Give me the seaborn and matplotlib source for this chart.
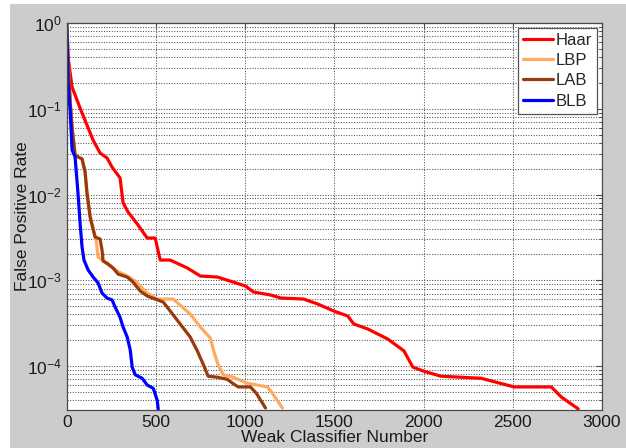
import numpy as np
import pandas as pd
import matplotlib
matplotlib.use("Agg")
import matplotlib.pyplot as plt
import seaborn as sns
from matplotlib.ticker import FixedLocator, NullFormatter, FuncFormatter
from matplotlib.patches import Rectangle

# ---- data ----
methods = ["Haar", "LBP", "LAB", "BLB"]
colors = ["#FF0000", "#FFAA5E", "#993A0C", "#0000FF"]

haar_x = [1, 30, 75, 148, 187, 226, 254, 299, 316, 344, 400, 451, 496, 524, 580, 676,
          749, 845, 935, 1002, 1047, 1143, 1199, 1328, 1407, 1497, 1575, 1609, 1688,
          1800, 1890, 1940, 2002, 2097, 2322, 2508, 2716, 2772, 2867]
haar_y = [0.51, 0.179, 0.102, 0.043, 0.0305, 0.0267, 0.0209, 0.0156, 0.0080, 0.00625,
          0.0044, 0.00311, 0.00311, 0.00172, 0.00172, 0.00139, 0.00112, 0.00109, 0.00095,
          0.000857, 0.00073, 0.000673, 0.000621, 0.000604, 0.000528, 0.000438, 0.000383,
          0.000309, 0.00027, 0.000206, 0.00015, 9.7e-5, 8.7e-5, 7.6e-5, 7.2e-5, 5.7e-5,
          5.7e-5, 4.35e-5, 3.16e-5]

lbp_x = [0, 7, 19, 30, 47, 64, 86, 103, 114, 137, 165, 176, 226, 283, 339, 384, 451, 507,
         597, 692, 749, 805, 822, 849, 877, 934, 1012, 1125, 1153, 1209]
lbp_y = [1.0, 0.48, 0.126, 0.061, 0.029, 0.0274, 0.026, 0.0183, 0.0098, 0.005, 0.00295,
         0.00187, 0.00155, 0.00128, 0.00112, 0.00098, 0.00071, 0.000604, 0.000604,
         0.000404, 0.000285, 0.000212, 0.000154, 0.000103, 7.9e-5, 7.4e-5, 6.3e-5,
         5.7e-5, 4.8e-5, 3.24e-5]

lab_x = [0, 7, 19, 30, 47, 64, 86, 103, 114, 131, 159, 187, 198, 204, 232, 260, 288, 339,
         372, 412, 451, 496, 541, 580, 636, 692, 732, 765, 793, 844, 900, 934, 962, 1030,
         1063, 1114]
lab_y = [1.0, 0.48, 0.126, 0.061, 0.0289, 0.0274, 0.026, 0.0183, 0.0104, 0.00547, 0.00319,
         0.00303, 0.00225, 0.00168, 0.00155, 0.00139, 0.00118, 0.00109, 0.00095, 0.00075,
         0.000655, 0.000604, 0.000557, 0.000438, 0.000309, 0.000218, 0.00015, 0.000105,
         7.6e-5, 7.4e-5, 7.0e-5, 6.2e-5, 5.7e-5, 5.7e-5, 4.8e-5, 3.24e-5]

blb_x = [0, 7, 19, 30, 47, 64, 75, 86, 97, 120, 148, 176, 198, 226, 254, 271, 299, 316,
         339, 356, 367, 384, 423, 451, 485, 507, 513]
blb_y = [1.0, 0.2, 0.097, 0.033, 0.0274, 0.0099, 0.00466, 0.00245, 0.00172, 0.00132,
         0.00109, 0.00093, 0.00071, 0.00062, 0.00059, 0.00049, 0.00037, 0.000285,
         0.000218, 0.000154, 9.7e-5, 7.9e-5, 7.2e-5, 6.0e-5, 5.5e-5, 4.0e-5, 3.15e-5]

x_ticks = [0, 500, 1000, 1500, 2000, 2500, 3000]
y_exps = [-4, -3, -2, -1, 0]

frames = []
for name, xs, ys in [("Haar", haar_x, haar_y), ("LBP", lbp_x, lbp_y),
                     ("LAB", lab_x, lab_y), ("BLB", blb_x, blb_y)]:
    frames.append(pd.DataFrame({"x": xs, "y": ys, "method": name}))
df = pd.concat(frames, ignore_index=True)

# ---- style ----
sns.set_style("white")
plt.rcParams["font.family"] = ["Liberation Sans", "DejaVu Sans"]
plt.rcParams["mathtext.fontset"] = "custom"
plt.rcParams["mathtext.rm"] = "Liberation Sans"
plt.rcParams["mathtext.it"] = "Liberation Sans:italic"
plt.rcParams["mathtext.bf"] = "Liberation Sans:bold"
plt.rcParams["mathtext.default"] = "regular"

W, H = 626, 448
fig = plt.figure(figsize=(W / 100, H / 100), dpi=100)
fig.patch.set_facecolor("white")
fig.add_artist(Rectangle((10 / W, 0), 1 - 10 / W, 444 / H, transform=fig.transFigure,
                         facecolor="#cccccc", edgecolor="none", zorder=0))

ax = fig.add_axes([66.7 / W, 38 / H, 535.3 / W, 387 / H])
ax.set_facecolor("white")

sns.lineplot(data=df, x="x", y="y", hue="method", hue_order=methods,
             palette=dict(zip(methods, colors)), estimator=None, sort=False,
             linewidth=2.3, ax=ax)

ax.set_yscale("log")
ax.set_xlim(0, 3000)
ax.set_ylim(3.07e-5, 1)

ax.xaxis.set_major_locator(FixedLocator(x_ticks))
ax.yaxis.set_major_locator(FixedLocator([10.0 ** e for e in y_exps]))
minors = [m * 10.0 ** e for e in range(-5, 0) for m in range(2, 10)]
ax.yaxis.set_minor_locator(FixedLocator(minors))
ax.yaxis.set_minor_formatter(NullFormatter())
ax.yaxis.set_major_formatter(FuncFormatter(lambda v, p: r"$10^{%d}$" % int(round(np.log10(v)))))

grid_kw = dict(linestyle=(0, (1, 1.5)), color="#555555", linewidth=0.75)
ax.grid(True, which="major", axis="x", **grid_kw)
ax.grid(True, which="both", axis="y", **grid_kw)

for s in ax.spines.values():
    s.set_color("#4a4a4a")
    s.set_linewidth(0.9)
    s.set_visible(True)

ax.tick_params(which="both", direction="in", top=True, right=True, colors="#4a4a4a",
               labelcolor="#1a1a1a", labelsize=12.5)
ax.tick_params(which="major", length=4, width=0.8, pad=3.5)
ax.tick_params(which="minor", length=2.5, width=0.7)

ax.set_xlabel("Weak Classifier Number", fontsize=12.5, color="#1a1a1a", labelpad=0)
ax.set_ylabel("False Positive Rate", fontsize=12.5, color="#1a1a1a")
ax.yaxis.set_label_coords(-0.068, 0.5)

leg = ax.legend(title=None, loc="upper right", bbox_to_anchor=(0.990, 0.988),
                frameon=True, fancybox=False, framealpha=1, edgecolor="#555555",
                fontsize=12, handlelength=1.8, handletextpad=0.15, labelspacing=0.32,
                borderpad=0.3, borderaxespad=0)
leg.get_frame().set_linewidth(0.9)
for line in leg.get_lines():
    line.set_linewidth(2.3)

fig.savefig("out.png", dpi=100, facecolor=fig.get_facecolor())
